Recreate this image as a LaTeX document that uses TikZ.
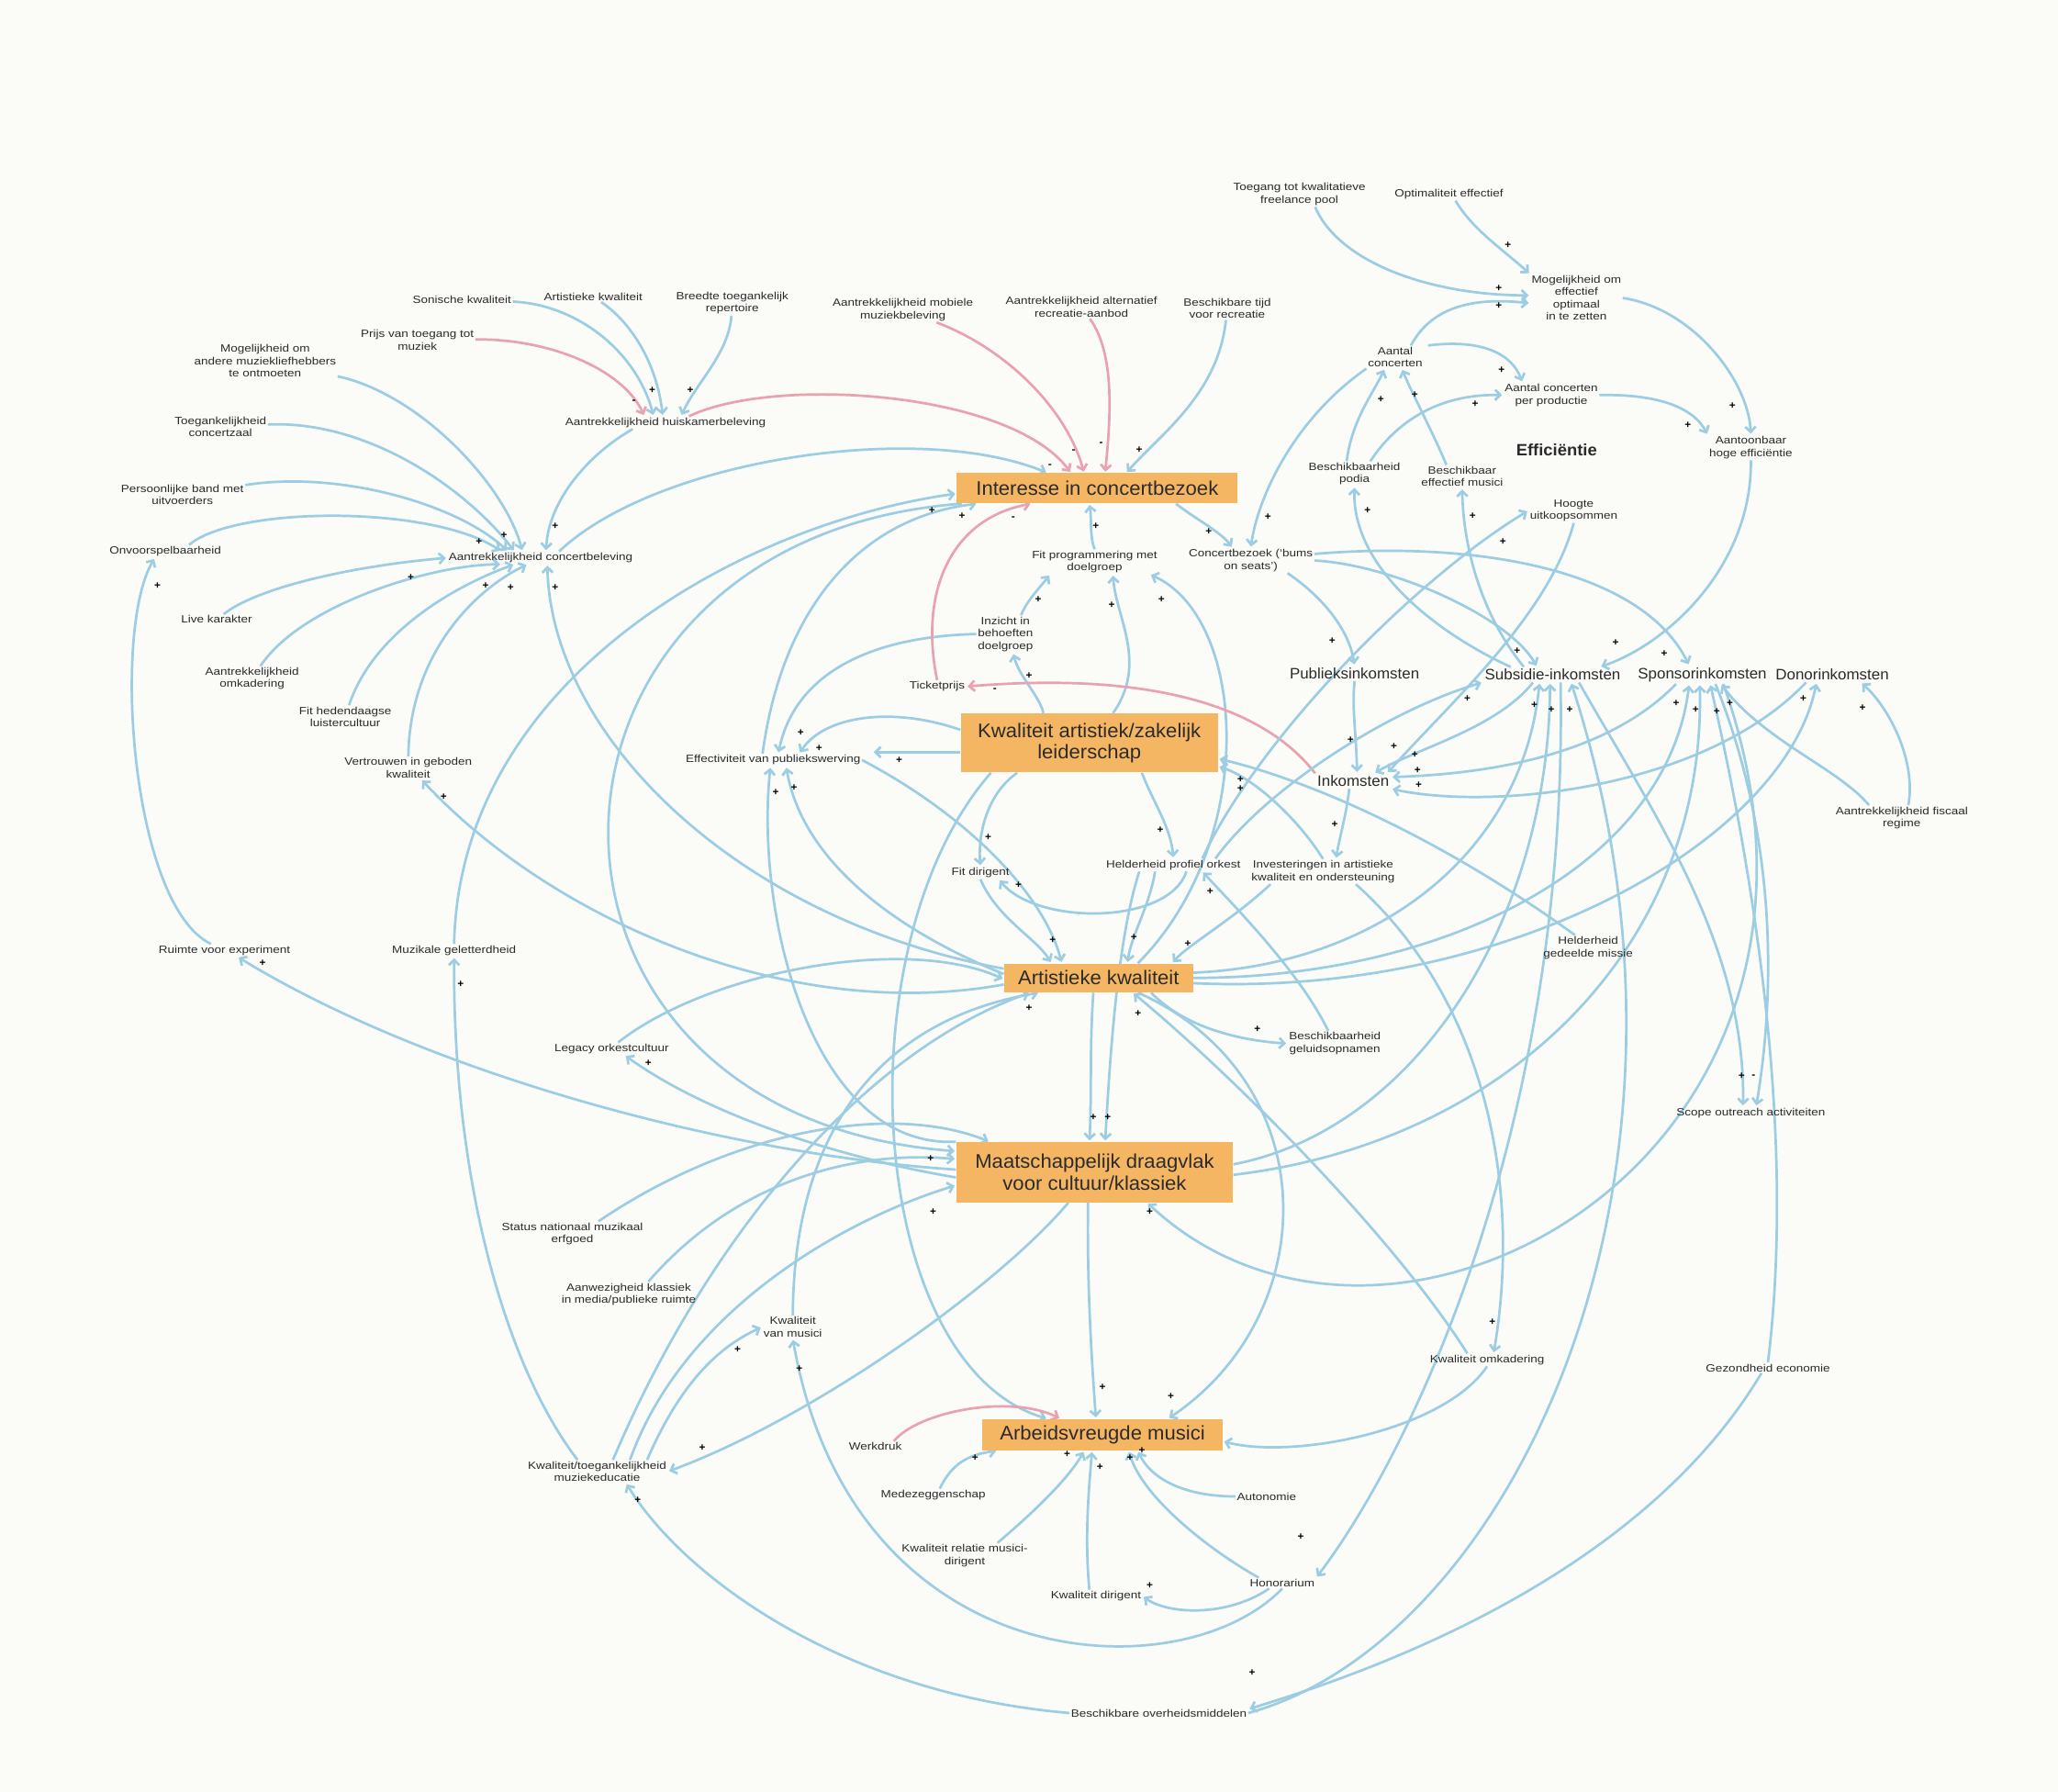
\documentclass[tikz,border=0pt]{standalone}
\usepackage{fontspec}
\setmainfont{Liberation Sans}
\newfontfamily\labfam[FakeStretch=1.18]{Liberation Sans}
\newfontfamily\boxfam[FakeStretch=1.03]{Liberation Sans}
\usetikzlibrary{arrows.meta}
\definecolor{lb}{HTML}{9CCDE2}
\definecolor{pk}{HTML}{E9A2B0}
\definecolor{bx}{HTML}{F5B663}
\definecolor{tx}{HTML}{2B2B2B}
\definecolor{bgc}{HTML}{FBFBF8}
\pgfdeclarelayer{bgl}
\pgfdeclarelayer{edg}
\pgfsetlayers{bgl,edg,main}
\tikzset{
 lab/.style={font=\labfam\fontsize{8}{9.4}\selectfont, text=tx, align=center, inner sep=1pt},
 mlab/.style={font=\boxfam\fontsize{11.5}{13}\selectfont, text=tx, align=center, inner sep=1.5pt},
 blab/.style={font=\boxfam\bfseries\fontsize{12.5}{14}\selectfont, text=tx, align=center, inner sep=1.5pt},
 box/.style={fill=bx, font=\boxfam\fontsize{15}{16.5}\selectfont, text=tx, align=center, inner sep=0pt},
 ar/.style={draw=lb, line width=1.9pt, -{Straight Barb[length=4pt,width=8pt]}, shorten >=1pt},
 arp/.style={ar, draw=pk},
 sg/.style={font=\boxfam\bfseries\fontsize{8}{8}\selectfont, text=black, inner sep=0pt},
}
\begin{document}
\begin{tikzpicture}[x=1pt,y=-1pt]
\useasboundingbox (0,0) rectangle (1568,1365);
\begin{pgfonlayer}{bgl}
\fill[bgc] (0,0) rectangle (1568,1365);
\end{pgfonlayer}
% ---------- boxes
\node[box, minimum width=214pt, minimum height=23pt] (intr) at (836,372) {Interesse in concertbezoek};
\node[box, minimum width=196pt, minimum height=45pt] (kaz) at (830,566) {Kwaliteit artistiek/zakelijk\\leiderschap};
\node[box, minimum width=144pt, minimum height=22pt] (ak) at (837,745) {Artistieke kwaliteit};
\node[box, minimum width=211pt, minimum height=46pt] (md) at (834,893) {Maatschappelijk draagvlak\\voor cultuur/klassiek};
\node[box, minimum width=183pt, minimum height=24pt] (arb) at (840,1093) {Arbeidsvreugde musici};
% ---------- small labels
\node[lab] (soni) at (352,228) {Sonische kwaliteit};
\node[lab] (artk) at (452,226) {Artistieke kwaliteit};
\node[lab] (bree) at (558,231) {Breedte toegankelijk\\repertoire};
\node[lab] (prij) at (318,259) {Prijs van toegang tot\\muziek};
\node[lab] (mogm) at (202,275) {Mogelijkheid om\\andere muziekliefhebbers\\te ontmoeten};
\node[lab] (ah) at (507,322) {Aantrekkelijkheid huiskamerbeleving};
\node[lab] (toeg) at (168,325) {Toegankelijkheid\\concertzaal};
\node[lab] (pers) at (139,377) {Persoonlijke band met\\uitvoerders};
\node[lab] (onvo) at (126,420) {Onvoorspelbaarheid};
\node[lab] (ac) at (412,425) {Aantrekkelijkheid concertbeleving};
\node[lab] (live) at (165,472) {Live karakter};
\node[lab] (aomk) at (192,517) {Aantrekkelijkheid\\omkadering};
\node[lab] (fith) at (263,546) {Fit hedendaagse\\luistercultuur};
\node[lab] (vert) at (311,585) {Vertrouwen in geboden\\kwaliteit};
\node[lab] (ruim) at (171,724) {Ruimte voor experiment};
\node[lab] (muzg) at (346,724) {Muzikale geletterdheid};
\node[lab] (lega) at (466,799) {Legacy orkestcultuur};
\node[lab] (stat) at (436,940) {Status nationaal muzikaal\\erfgoed};
\node[lab] (aanw) at (479,986) {Aanwezigheid klassiek\\in media/publieke ruimte};
\node[lab] (kvm) at (604,1011) {Kwaliteit\\van musici};
\node[lab] (kme) at (455,1121) {Kwaliteit/toegankelijkheid\\muziekeducatie};
\node[lab] (werk) at (667,1102) {Werkdruk};
\node[lab] (mede) at (711,1139) {Medezeggenschap};
\node[lab] (krel) at (735,1185) {Kwaliteit relatie musici-\\dirigent};
\node[lab] (kdir) at (835,1216) {Kwaliteit dirigent};
\node[lab] (hono) at (977,1206) {Honorarium};
\node[lab] (auton) at (965,1140) {Autonomie};
\node[lab] (bov) at (883,1305) {Beschikbare overheidsmiddelen};
\node[lab] (gez) at (1347,1042) {Gezondheid economie};
\node[lab] (kom) at (1133,1036) {Kwaliteit omkadering};
\node[lab] (scop) at (1334,848) {Scope outreach activiteiten};
\node[lab] (hgm) at (1210,722) {Helderheid\\gedeelde missie};
\node[lab] (fisc) at (1449,623) {Aantrekkelijkheid fiscaal\\regime};
\node[mlab] (donor) at (1396,514) {Donorinkomsten};
\node[mlab] (spons) at (1297,514) {Sponsorinkomsten};
\node[mlab] (subs) at (1183,514) {Subsidie-inkomsten};
\node[mlab] (publ) at (1032,513) {Publieksinkomsten};
\node[mlab] (ink) at (1031,595) {Inkomsten};
\node[lab] (inv) at (1008,664) {Investeringen in artistieke\\kwaliteit en ondersteuning};
\node[lab] (hpo) at (894,659) {Helderheid profiel orkest};
\node[lab] (geluid) at (1017,795) {Beschikbaarheid\\geluidsopnamen};
\node[lab] (fitd) at (747,665) {Fit dirigent};
\node[lab] (eff) at (589,579) {Effectiviteit van publiekswerving};
\node[lab] (tick) at (714,523) {Ticketprijs};
\node[lab] (inz) at (766,483) {Inzicht in\\behoeften\\doelgroep};
\node[lab] (fitp) at (834,428) {Fit programmering met\\doelgroep};
\node[lab] (conc) at (953,427) {Concertbezoek (‘bums\\on seats’)};
\node[lab] (hoog) at (1199,389) {Hoogte\\uitkoopsommen};
\node[lab] (bpod) at (1032,361) {Beschikbaarheid\\podia};
\node[lab] (bmus) at (1114,363) {Beschikbaar\\effectief musici};
\node[blab] (effic) at (1186,343) {Efficiëntie};
\node[lab] (aantc) at (1063,272) {Aantal\\concerten};
\node[lab] (aantp) at (1182,301) {Aantal concerten\\per productie};
\node[lab] (moge) at (1201,227) {Mogelijkheid om\\effectief\\optimaal\\in te zetten};
\node[lab] (toegf) at (990,148) {Toegang tot kwalitatieve\\freelance pool};
\node[lab] (optim) at (1104,148) {Optimaliteit effectief};
\node[lab] (aant) at (1334,341) {Aantoonbaar\\hoge efficiëntie};
\node[lab] (mob) at (688,236) {Aantrekkelijkheid mobiele\\muziekbeleving};
\node[lab] (alt) at (824,234) {Aantrekkelijkheid alternatief\\recreatie-aanbod};
\node[lab] (btijd) at (935,235) {Beschikbare tijd\\voor recreatie};
% ---------- signs
\foreach \px/\py/\sgn [count=\i] in {483/306/-, 497/297/+, 526/297/+,
 423/401/+, 365/413/+, 384/408/+, 313/440/+, 370/446/+, 389/448/+, 423/448/+,
 120/446/+, 338/607/+, 200/734/+, 351/750/+, 494/810/+,
 800/355/-, 818/344/-, 839/338/-, 868/343/+,
 710/389/+, 733/393/+, 772/395/-,
 835/401/+, 791/457/+, 847/461/+, 885/457/+,
 921/405/+, 966/394/+, 1015/488/+,
 784/515/+, 758/526/-,
 610/558/+, 624/570/+, 685/579/+, 591/604/+, 605/600/+,
 753/638/+, 776/674/+, 884/632/+, 922/679/+,
 945/594/+, 945/601/+,
 1029/564/+, 1062/569/+, 1078/575/+, 1080/587/+, 1081/598/+, 1017/628/+,
 1156/496/+, 1231/490/+, 1268/498/+,
 1118/532/+, 1169/537/+, 1182/541/+, 1196/541/+,
 1277/536/+, 1292/541/+, 1308/542/+, 1318/536/+,
 1374/532/+, 1419/539/+,
 1327/820/+, 1336/820/-,
 1149/187/+, 1142/220/+, 1142/233/+, 1144/282/+, 1052/304/+, 1078/301/+, 1124/308/+, 1286/324/+, 1320/309/+,
 1042/389/+, 1122/393/+, 1145/413/+,
 802/716/+, 864/714/+, 905/719/+, 784/768/+, 867/772/+, 958/784/+,
 833/851/+, 844/851/+, 709/883/+, 711/923/+, 876/923/+,
 1137/1007/+,
 840/1057/+, 892/1064/+, 743/1111/+, 813/1108/+, 838/1118/+, 861/1111/+, 870/1105/+,
 562/1028/+, 609/1043/+, 535/1103/+, 486/1143/+,
 991/1171/+, 876/1208/+, 954/1274/+}
 \node[sg] (sg\i) at (\px,\py) {\sgn};
% ---------- connectors
\begin{pgfonlayer}{edg}
% top-left cluster
\draw[arp] (prij) .. controls (420,258) and (475,282) .. ([xshift=-16pt]ah.north);
\draw[ar] (soni) .. controls (440,232) and (485,268) .. ([xshift=-9pt]ah.north);
\draw[ar] (artk) .. controls (480,245) and (500,275) .. ([xshift=-2pt]ah.north);
\draw[ar] (bree) .. controls (555,270) and (530,292) .. ([xshift=12pt]ah.north);
\draw[arp] ([xshift=18pt]ah.north) .. controls (590,286) and (770,298) .. ([xshift=-20pt]intr.north);
\draw[arp] (mob) .. controls (765,265) and (812,310) .. ([xshift=-10pt]intr.north);
\draw[arp] (alt) .. controls (850,270) and (846,320) .. ([xshift=6pt]intr.north);
\draw[ar] (btijd) .. controls (928,300) and (885,330) .. ([xshift=22pt]intr.north);
\draw[ar] ([xshift=-25pt]ah.south) .. controls (450,345) and (418,380) .. ([xshift=4pt]ac.north);
% into concertbeleving
\draw[ar] (mogm) .. controls (320,300) and (385,370) .. ([xshift=-14pt]ac.north);
\draw[ar] (toeg) .. controls (280,320) and (355,372) .. ([xshift=-20pt]ac.north);
\draw[ar] (pers) .. controls (260,358) and (350,385) .. ([xshift=-25pt]ac.north);
\draw[ar] ([xshift=18pt]onvo.north) .. controls (180,385) and (330,385) .. ([xshift=-30pt]ac.north);
\draw[ar] (live) .. controls (200,445) and (280,430) .. (ac.west);
\draw[ar] (aomk) .. controls (230,460) and (330,430) .. ([xshift=-30pt]ac.south);
\draw[ar] (fith) .. controls (285,480) and (350,445) .. ([xshift=-20pt]ac.south);
\draw[ar] (vert) .. controls (312,500) and (360,450) .. ([xshift=-10pt]ac.south);
\draw[ar] ([yshift=7pt]ak.west) .. controls (560,700) and (420,560) .. ([xshift=5pt]ac.south);
\draw[ar] ([xshift=14pt]ac.north) .. controls (500,350) and (700,320) .. ([xshift=-38pt]intr.north);
% left side
\draw[ar] (ruim) .. controls (100,690) and (85,480) .. ([xshift=-8pt]onvo.south);
\draw[ar] ([yshift=2pt]md.west) .. controls (560,880) and (330,820) .. ([xshift=10pt]ruim.south);
\draw[ar] ([yshift=-5pt]ak.west) .. controls (600,780) and (420,700) .. ([xshift=10pt]vert.south);
\draw[ar] ([xshift=-15pt]kme.north) .. controls (385,1040) and (345,900) .. (muzg.south);
\draw[ar] (muzg.north) .. controls (350,520) and (560,400) .. ([yshift=-4pt]intr.west);
\draw[ar] ([xshift=-8pt]eff.north) .. controls (595,470) and (650,395) .. ([xshift=16pt]intr.south west);
\draw[ar] ([xshift=4pt]intr.south west) .. controls (380,410) and (370,850) .. ([yshift=16pt]md.west);
\draw[ar] (md.north west) .. controls (620,875) and (575,700) .. ([xshift=-2pt]eff.south);
\draw[ar] ([yshift=3pt]ak.west) .. controls (690,712) and (612,660) .. ([xshift=10pt]eff.south);
\draw[ar] (eff.east) .. controls (735,620) and (795,680) .. ([xshift=-28pt]ak.north);
% leadership / effectiveness
\draw[ar] ([yshift=-7pt]kaz.west) -- ([xshift=8pt,yshift=6pt]eff.east);
\draw[ar] ([yshift=10pt]kaz.west) .. controls (680,538) and (628,545) .. ([xshift=20pt]eff.north);
\draw[ar] (inz.west) .. controls (660,485) and (605,515) .. ([xshift=4pt]eff.north);
\draw[ar] ([xshift=-35pt]kaz.north) .. controls (792,530) and (776,515) .. ([xshift=6pt]inz.south);
\draw[ar] ([xshift=12pt]inz.north) .. controls (782,458) and (792,448) .. ([xshift=-34pt]fitp.south);
\draw[ar] ([xshift=18pt]kaz.north) .. controls (875,505) and (850,470) .. ([xshift=14pt]fitp.south);
\draw[ar] (fitp.north) .. controls (830,408) and (832,398) .. ([xshift=-6pt]intr.south);
\draw[ar] ([xshift=30pt]ak.north) .. controls (960,640) and (950,470) .. ([xshift=42pt]fitp.south);
\draw[ar] ([xshift=-55pt]kaz.south) .. controls (752,605) and (745,635) .. (fitd.north);
\draw[ar] ([xshift=10pt]hpo.south) .. controls (890,705) and (790,705) .. ([xshift=14pt]fitd.south);
\draw[ar] (fitd.south) .. controls (760,700) and (790,715) .. ([xshift=-36pt]ak.north);
\draw[ar] ([xshift=40pt]kaz.south) .. controls (878,610) and (892,630) .. (hpo.north);
\draw[ar] ([xshift=-14pt]hpo.south) .. controls (876,690) and (862,712) .. ([xshift=22pt]ak.north);
\draw[ar] ([xshift=-40pt]inv.south) .. controls (940,700) and (905,720) .. ([xshift=56pt]ak.north);
\draw[ar] (inv.north) .. controls (990,625) and (955,592) .. ([yshift=-18pt]kaz.east);
\draw[ar] ([xshift=-10pt]hgm.north) .. controls (1100,640) and (1000,595) .. ([yshift=-12pt]kaz.east);
% income
\draw[ar] ([xshift=-3pt]ink.south) .. controls (1026,620) and (1020,640) .. ([xshift=10pt]inv.north);
\draw[arp] (ink.north west) .. controls (960,535) and (870,512) .. (tick.east);
\draw[arp] (tick.north) .. controls (700,450) and (725,395) .. ([xshift=-50pt]intr.south);
\draw[ar] (publ.south) .. controls (1030,540) and (1033,555) .. ([xshift=3pt]ink.north);
\draw[ar] ([xshift=-15pt]subs.south) .. controls (1140,555) and (1080,570) .. ([xshift=16pt]ink.north);
\draw[ar] (hoog.south) .. controls (1180,470) and (1100,540) .. ([xshift=26pt]ink.north);
\draw[ar] ([xshift=-20pt]spons.south) .. controls (1220,580) and (1120,590) .. ([yshift=3pt]ink.east);
\draw[ar] ([xshift=-20pt]donor.south) .. controls (1300,600) and (1140,618) .. ([yshift=-6pt]ink.east);
% efficiency cluster
\draw[ar] ([xshift=12pt]toegf.south) .. controls (1020,200) and (1090,225) .. ([yshift=2pt]moge.west);
\draw[ar] ([xshift=5pt]optim.south) .. controls (1122,175) and (1145,190) .. (moge.north west);
\draw[ar] ([xshift=12pt]aantc.north) .. controls (1090,235) and (1120,226) .. ([yshift=-4pt]moge.west);
\draw[ar] ([xshift=25pt]aantc.north) .. controls (1130,258) and (1152,270) .. ([xshift=-22pt]aantp.north);
\draw[ar] ([xshift=-6pt]bpod.north) .. controls (1030,320) and (1046,300) .. ([xshift=-8pt]aantc.south);
\draw[ar] ([xshift=-12pt]bmus.north) .. controls (1092,330) and (1076,300) .. ([xshift=5pt]aantc.south);
\draw[ar] ([xshift=12pt]bpod.north) .. controls (1066,318) and (1100,300) .. (aantp.west);
\draw[ar] (aantp.east) .. controls (1262,300) and (1290,310) .. (aant.north west);
\draw[ar] (moge.east) .. controls (1290,235) and (1332,290) .. (aant.north);
\draw[ar] (aant.south) .. controls (1335,430) and (1272,490) .. ([xshift=36pt]subs.north);
\draw[ar] ([xshift=-22pt]aantc.south) .. controls (985,320) and (958,380) .. (conc.north);
\draw[ar] ([xshift=60pt]intr.south) .. controls (910,395) and (930,405) .. ([xshift=-14pt]conc.north);
\draw[ar] ([xshift=28pt]conc.south) .. controls (1008,455) and (1028,480) .. (publ.north);
\draw[ar] (conc.east) .. controls (1060,430) and (1150,470) .. ([xshift=-12pt]subs.north);
\draw[ar] ([yshift=5pt]conc.east) .. controls (1120,412) and (1250,432) .. ([xshift=-10pt]spons.north);
\draw[ar] ([xshift=-32pt]subs.north) .. controls (1090,480) and (1030,430) .. (bpod.south);
\draw[ar] ([xshift=-22pt]subs.north) .. controls (1130,470) and (1115,420) .. (bmus.south);
\draw[ar] ([xshift=22pt]hpo.north) .. controls (960,560) and (1080,440) .. (hoog.west);
\draw[ar] ([xshift=32pt]hpo.north) .. controls (965,600) and (1060,540) .. (subs.south west);
% right side
\draw[ar] ([yshift=4pt]ak.east) .. controls (1050,735) and (1160,650) .. ([xshift=-10pt]subs.south);
\draw[ar] ([yshift=6pt]md.east) .. controls (1080,860) and (1180,700) .. ([xshift=-2pt]subs.south);
\draw[ar] (ak.east) .. controls (1100,745) and (1270,660) .. ([xshift=-10pt]spons.south);
\draw[ar] ([yshift=-2pt]md.east) .. controls (1150,870) and (1300,720) .. ([xshift=-2pt]spons.south);
\draw[ar] ([yshift=-4pt]ak.east) .. controls (1150,760) and (1360,640) .. ([xshift=-12pt]donor.south);
\draw[ar] (gez.north) .. controls (1370,850) and (1330,640) .. ([xshift=6pt]spons.south);
\draw[ar] ([xshift=-25pt]fisc.north) .. controls (1400,585) and (1345,565) .. ([xshift=14pt]spons.south);
\draw[ar] ([xshift=5pt]fisc.north) .. controls (1460,580) and (1440,540) .. ([xshift=22pt]donor.south);
\draw[ar] ([xshift=20pt]subs.south) .. controls (1260,620) and (1330,720) .. ([xshift=-6pt]scop.north);
\draw[ar] ([xshift=10pt]spons.south) .. controls (1355,640) and (1352,760) .. ([xshift=4pt]scop.north);
\draw[ar] ([xshift=6pt]subs.south) .. controls (1195,850) and (1080,1100) .. (hono.north east);
\draw[ar] (bov.east) .. controls (1150,1250) and (1320,900) .. ([xshift=14pt]subs.south);
\draw[ar] ([xshift=-5pt]gez.south) .. controls (1250,1200) and (1050,1272) .. ([yshift=3pt]bov.east);
\draw[ar] (bov.west) .. controls (640,1290) and (520,1200) .. ([xshift=22pt]kme.south);
\draw[ar] ([xshift=16pt]spons.south) .. controls (1440,880) and (1060,1090) .. ([xshift=40pt]md.south);
\draw[ar] (kom.south) .. controls (1100,1090) and (985,1112) .. ([yshift=-5pt]arb.east);
\draw[ar] ([xshift=25pt]inv.south) .. controls (1130,760) and (1160,900) .. ([xshift=5pt]kom.north);
\draw[ar] ([xshift=-15pt]kom.north) .. controls (1060,940) and (940,820) .. ([xshift=26pt]ak.south);
\draw[ar] ([xshift=40pt]ak.south) .. controls (905,785) and (950,793) .. (geluid.west);
\draw[ar] ([xshift=-5pt]geluid.north) .. controls (990,740) and (940,690) .. ([xshift=22pt]hpo.south);
\draw[ar] ([xshift=30pt]ak.south) .. controls (1010,820) and (1010,1000) .. ([xshift=50pt]arb.north);
% centre column
\draw[ar] ([xshift=-4pt]ak.south) .. controls (830,800) and (832,830) .. ([xshift=-4pt]md.north);
\draw[ar] ([xshift=-26pt]hpo.south) .. controls (850,720) and (845,820) .. ([xshift=8pt]md.north);
\draw[ar] ([xshift=-5pt]md.south) .. controls (828,980) and (832,1040) .. ([xshift=-5pt]arb.north);
\draw[ar] ([xshift=-20pt]md.south) .. controls (760,980) and (620,1080) .. (kme.east);
\draw[ar] ([xshift=25pt]kme.north) .. controls (520,1000) and (640,930) .. ([yshift=-10pt]md.west);
\draw[ar] ([xshift=38pt]kme.north) .. controls (520,1050) and (550,1025) .. (kvm.west);
\draw[ar] (kvm.north) .. controls (605,850) and (680,775) .. ([xshift=-45pt]ak.south);
\draw[ar] ([xshift=12pt]kme.north) .. controls (540,940) and (660,800) .. ([xshift=-52pt]ak.south);
\draw[ar] ([xshift=20pt]stat.north) .. controls (560,860) and (680,840) .. ([xshift=-80pt]md.north);
\draw[ar] ([xshift=15pt]aanw.north) .. controls (560,900) and (650,876) .. ([yshift=10pt]md.west);
\draw[ar] ([yshift=-4pt]md.west) .. controls (640,882) and (540,850) .. ([xshift=10pt]lega.south);
\draw[ar] ([xshift=5pt]lega.north) .. controls (540,740) and (690,712) .. ([yshift=-1pt]ak.west);
\draw[ar] ([xshift=-75pt]kaz.south) .. controls (640,720) and (660,1040) .. ([xshift=-42pt]arb.north);
% work satisfaction
\draw[ar] (hono.south) .. controls (900,1290) and (650,1280) .. (kvm.south);
\draw[ar] ([xshift=-10pt]hono.south) .. controls (935,1232) and (890,1230) .. (kdir.east);
\draw[ar] ([xshift=-18pt]hono.north) .. controls (920,1180) and (870,1140) .. ([xshift=20pt]arb.south);
\draw[ar] (auton.west) .. controls (900,1140) and (876,1125) .. ([xshift=27pt]arb.south);
\draw[ar] ([xshift=-5pt]kdir.north) .. controls (826,1170) and (830,1130) .. ([xshift=-8pt]arb.south);
\draw[ar] ([xshift=25pt]krel.north) .. controls (790,1150) and (815,1125) .. ([xshift=-14pt]arb.south);
\draw[ar] ([xshift=5pt]mede.north) .. controls (725,1115) and (738,1108) .. ([xshift=-80pt]arb.south);
\draw[arp] ([xshift=14pt]werk.north) .. controls (700,1075) and (770,1062) .. ([xshift=-32pt]arb.north);
\end{pgfonlayer}
\end{tikzpicture}
\end{document}
